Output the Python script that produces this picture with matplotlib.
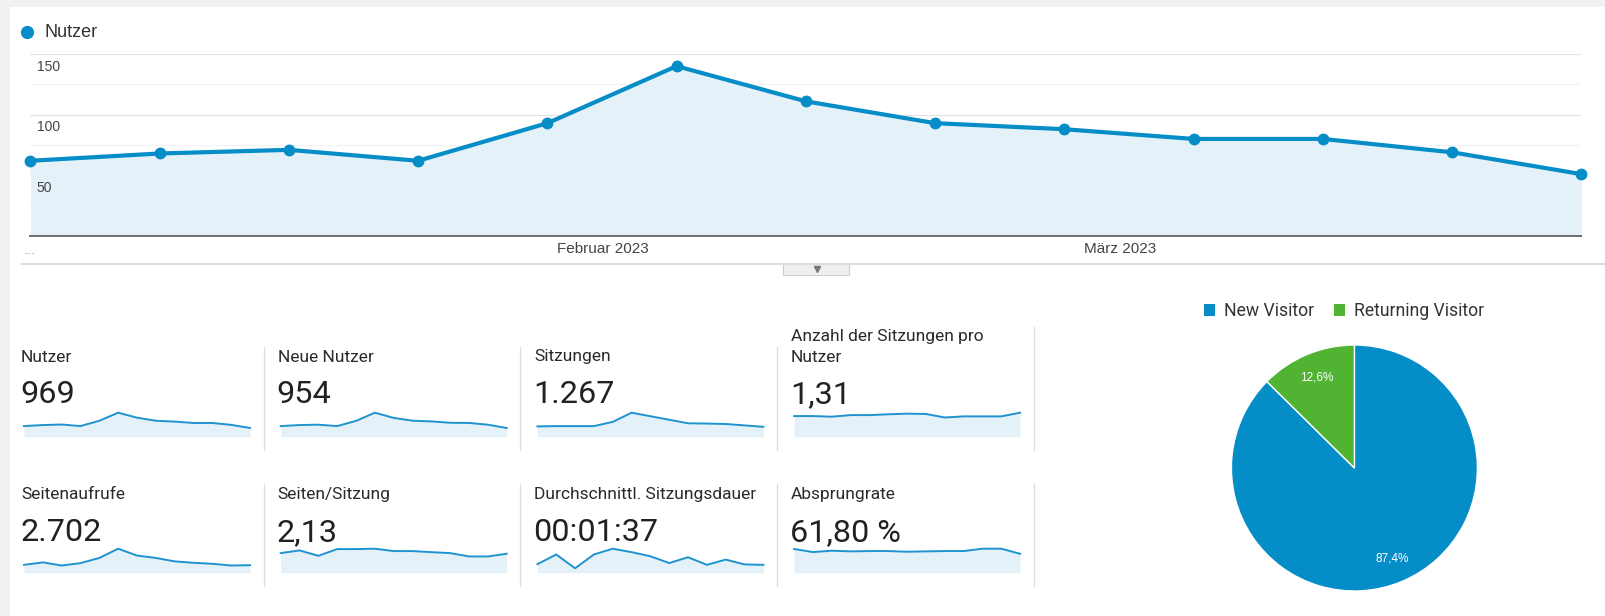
import pandas as pd
import matplotlib
matplotlib.use("Agg")
import matplotlib.pyplot as plt
from matplotlib.patches import Rectangle

# === Daten ===
wochen = pd.date_range("2023-01-01", periods=13, freq="7D")
nutzer = [62, 68, 71, 62, 93, 140, 111, 93, 88, 80, 80, 69, 51]
monat_ticks = pd.to_datetime(["2023-02-01", "2023-03-01"])
monat_labels = ["Februar 2023", "März 2023"]
y_labels = [50, 100, 150]

titel = ["Nutzer", "Neue Nutzer", "Sitzungen", "Anzahl der Sitzungen pro\nNutzer",
         "Seitenaufrufe", "Seiten/Sitzung", "Durchschnittl. Sitzungsdauer", "Absprungrate"]
werte = ["969", "954", "1.267", "1,31", "2.702", "2,13", "00:01:37", "61,80 %"]

spark_nutzer = nutzer
spark_neue_nutzer = [61, 67, 69, 61, 91, 138, 108, 92, 88, 80, 79, 69, 50]
spark_sitzungen = [73, 75, 75, 75, 105, 170, 145, 120, 95, 93, 90, 80, 70]
spark_pro_nutzer = [1.29, 1.29, 1.25, 1.35, 1.35, 1.40, 1.44, 1.42, 1.20, 1.27, 1.27, 1.27, 1.50]
spark_seitenaufrufe = [141, 185, 129, 172, 265, 431, 308, 265, 203, 178, 160, 129, 135]
spark_seiten_sitzung = [2.05, 2.33, 1.77, 2.47, 2.47, 2.51, 2.26, 2.26, 2.15, 2.05, 1.70, 1.70, 1.98]
spark_dauer = [62, 132, 32, 132, 174, 149, 119, 70, 112, 57, 95, 60, 57]
spark_absprung = [67.1, 58.4, 62.3, 60.4, 61.3, 61.3, 59.4, 60.4, 61.3, 61.3, 68.0, 68.0, 53.6]
sparks = [spark_nutzer, spark_neue_nutzer, spark_sitzungen, spark_pro_nutzer,
          spark_seitenaufrufe, spark_seiten_sitzung, spark_dauer, spark_absprung]

besucher_labels = ["New Visitor", "Returning Visitor"]
besucher_anteile = [87.4, 12.6]
besucher_farben = ["#058dc7", "#50b432"]

BLAU = "#058dc7"
FUELLUNG = "#e5f1f9"

W, H = 1605, 616


def box(x0, y0, x1, y1):
    return [x0 / W, 1 - y1 / H, (x1 - x0) / W, (y1 - y0) / H]


fig = plt.figure(figsize=(W / 100, H / 100), dpi=100, facecolor="#f1f1f1")

# Hintergrund in Pixelkoordinaten
bg = fig.add_axes([0, 0, 1, 1])
bg.set_xlim(0, W)
bg.set_ylim(H, 0)
bg.axis("off")
bg.add_patch(Rectangle((10, 7), W - 10, H - 7, facecolor="white", edgecolor="none"))

# Legende oben
bg.plot(26.8, 31.7, "o", color=BLAU, markersize=8.5)
bg.text(44.6, 32.3, "Nutzer", fontsize=13, family="Liberation Sans", color="#333333", va="center")
bg.text(24, 250, "...", fontsize=9, color="#999999", va="center")

# Trennlinie + Reiter
bg.plot([22, W], [264.3, 264.3], color="#dddddd", lw=1.5)
bg.add_patch(Rectangle((782.7, 264), 66.6, 11.3, facecolor="#efefef", edgecolor="#cfcfcf", lw=0.8))
bg.plot(816.7, 269.3, "v", color="#777777", markersize=4.5)

# === Hauptdiagramm ===
ax = fig.add_axes(box(30.4, 54, 1581.3, 236))
ax.patch.set_alpha(0)
ax.fill_between(wochen, nutzer, 0, color=FUELLUNG, lw=0)
ax.plot(wochen, nutzer, color=BLAU, lw=3, marker="o", markersize=7.5, clip_on=False, zorder=3)
ax.set_xlim(wochen[0], wochen[-1])
ax.set_ylim(0, 150)
ax.set_yticks(y_labels)
ax.set_yticks([25, 75, 125], minor=True)
ax.grid(axis="y", which="major", color="#e2e2e2", lw=0.8)
ax.grid(axis="y", which="minor", color="#f1f1f1", lw=0.8)
ax.set_axisbelow(True)
ax.tick_params(axis="y", which="both", length=0, labelleft=False)
for v in y_labels:
    ax.annotate(str(v), xy=(0, v), xycoords=("axes fraction", "data"), xytext=(4.5, -9.1),
                textcoords="offset points", va="center", ha="left", fontsize=10,
                family="Liberation Sans", color="#444444")
ax.set_xticks(monat_ticks)
ax.set_xticklabels(monat_labels, fontsize=11, family="Liberation Sans", color="#444444")
ax.tick_params(axis="x", length=0, pad=4.0)
for s in ["top", "left", "right"]:
    ax.spines[s].set_visible(False)
ax.spines["bottom"].set_color("#6d6d6d")
ax.spines["bottom"].set_linewidth(1.4)

# === Kennzahlen ===
for i in range(8):
    zeile, spalte = divmod(i, 4)
    cx = 21 + 256.7 * spalte
    titel_base = 361.5 if zeile == 0 else 498.8
    wert_base = 403.3 if zeile == 0 else 540.7
    sp_unten = 436.7 if zeile == 0 else 572.7
    sep_unten = 450 if zeile == 0 else 586

    zeilen = titel[i].split("\n")
    for k, t in enumerate(reversed(zeilen)):
        bg.text(cx, titel_base - 20 * k, t, fontsize=12.5, family="Roboto", color="#2a2a2a", va="baseline")
    bg.text(cx - 1, wert_base, werte[i], fontsize=23.3, family="Roboto", color="#212121", va="baseline")
    sep_oben = titel_base - 15 - 20 * (len(zeilen) - 1)
    bg.plot([cx + 242.5, cx + 242.5], [sep_oben, sep_unten], color="#dddddd", lw=0.9)

    sax = fig.add_axes(box(cx + 3, sp_unten - 24, cx + 229, sp_unten))
    sax.patch.set_alpha(0)
    d = sparks[i]
    sax.fill_between(range(len(d)), d, 0, color=FUELLUNG, lw=0)
    sax.plot(range(len(d)), d, color="#1f93d0", lw=1.4, clip_on=False)
    sax.set_xlim(0, len(d) - 1)
    sax.set_ylim(0, max(d))
    sax.axis("off")

# === Kreisdiagramm ===
pax = fig.add_axes(box(1231.4, 345, 1477.4, 591))
pax.pie(besucher_anteile, colors=besucher_farben, startangle=90, counterclock=False,
        wedgeprops={"edgecolor": "white", "linewidth": 1},
        autopct=lambda p: f"{p:.1f}%".replace(".", ","), pctdistance=0.8,
        textprops={"color": "white", "fontsize": 8.5, "family": "Liberation Sans"})
pax.set_xlim(-1, 1)
pax.set_ylim(-1, 1)

for lx, label, farbe in zip([1204, 1334], besucher_labels, besucher_farben):
    bg.add_patch(Rectangle((lx, 304.3), 11, 11.4, facecolor=farbe, edgecolor="none"))
    bg.text(lx + 20.5, 315.5, label, fontsize=12.7, family="Roboto", color="#333333", va="baseline")

fig.savefig("out.png", dpi=100, facecolor=fig.get_facecolor())
